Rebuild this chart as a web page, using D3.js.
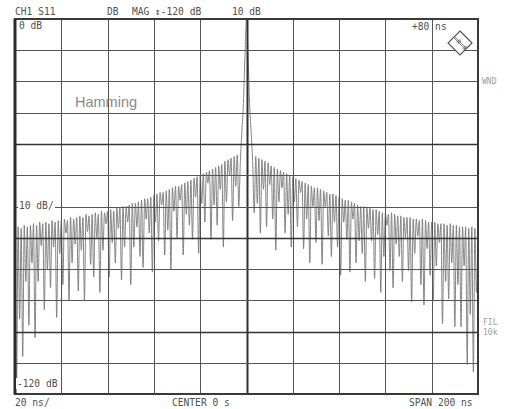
<!DOCTYPE html>
<html>
<head>
<meta charset="utf-8">
<script src="https://cdn.jsdelivr.net/npm/d3@7"></script>
<style>
  body { margin: 0; background: #fff; }
  text { font-family: "DejaVu Sans Mono", monospace; font-size: 9.6px; fill: #505050; }
</style>
</head>
<body>
<svg id="chart" width="509" height="409"></svg>
<script>
// time axis (ns) and magnitude axis (dB)
const timeTicks = [-100, -80, -60, -40, -20, 0, 20, 40, 60, 80, 100];
const dbTicks = [-120, -110, -100, -90, -80, -70, -60, -50, -40, -30, -20, -10, 0];
const heavyDb = [-40, -70, -100];

// S11 time domain trace, 301 points from -100 ns to +100 ns (2/3 ns apart)
const traceStart = -100;
const traceStep = 2 / 3;
const traceDb = [
  -67, -118, -66.5, -96, -67, -108, -66, -84, -66.5, -98,
  -66, -78, -65.5, -102, -66, -84, -65, -72.5, -65.5, -93,
  -65, -80, -65.5, -86, -64.5, -73, -65, -95.5, -64.5, -75,
  -64.5, -85, -64, -68.5, -64.5, -90, -63.5, -78, -64, -72,
  -63.5, -87, -63, -74, -63.5, -90, -62.5, -68, -63, -78.5,
  -62.5, -82.5, -62, -70, -62.5, -87.5, -61.5, -74, -62, -65.5,
  -61.5, -82.5, -61, -71.5, -61.5, -78, -60.5, -67, -60.5, -83.5,
  -60, -73, -60, -65, -59.5, -85, -59, -73, -59, -66.5,
  -58.5, -76, -58, -79.5, -57.5, -64, -57.5, -68.5, -57, -81,
  -56.5, -65, -56, -71, -55.5, -59.5, -55.5, -75.5, -55, -67.5,
  -54.5, -80, -54, -61.5, -53.5, -70, -53.5, -58, -53, -75.5,
  -52.5, -62.5, -52, -66, -51.5, -70.5, -51, -57, -50.5, -75,
  -50, -59, -49.5, -65, -49, -52.5, -48.5, -70.5, -48, -59.5,
  -47.5, -66, -47, -54.5, -46.5, -73, -45.5, -58.5, -45, -50,
  -44.5, -64.5, -44, -53.5, -43.5, -60, -46, -36, -27, -12,
  0, -12, -27, -36, -46, -62, -44, -59, -44.5, -68.5,
  -45, -54.5, -45.5, -66.5, -46, -53, -47, -64, -47.5, -74,
  -48, -58.5, -48.5, -54, -49, -68.5, -49.5, -62.5, -50, -73,
  -50.5, -58.5, -51, -66.5, -51.5, -55.5, -52, -73.5, -52.5, -64,
  -53, -78, -53.5, -60, -54, -71.5, -54, -64.5, -54.5, -78.5,
  -55, -60, -55.5, -69.5, -56, -76, -56, -65, -56.5, -73,
  -57, -82, -57.5, -65, -58, -70.5, -58, -81, -58.5, -64,
  -59, -78, -59.5, -71, -60, -75, -60, -84, -60.5, -67,
  -60.5, -71, -61, -83, -61, -69, -61.5, -87.5, -62, -76,
  -62, -66, -62.5, -80.5, -62, -86, -62.5, -72, -63, -76,
  -63, -84, -63.5, -70, -63.5, -80.5, -63.5, -90.5, -64, -75,
  -64, -69.5, -64.5, -85, -64, -91.5, -64.5, -73.5, -65, -82,
  -65, -90, -65, -79, -65.5, -71.5, -65.5, -97.5, -65.5, -84,
  -66, -89.5, -65.5, -78, -66, -98.5, -66, -85, -66.5, -98.5,
  -66.5, -79, -66.5, -110.5, -67, -94.5, -66.5, -113, -67, -87.5,
  -67
];

const svg = d3.select("#chart");
const plotL = 15, plotR = 478, plotT = 19, plotB = 394;

const x = d3.scaleLinear().domain([-100, 100]).range([plotL, plotR]);
const y = d3.scaleLinear().domain([-120, 0]).range([plotB, plotT]);

svg.append("defs").append("clipPath").attr("id", "plot")
  .append("rect").attr("x", plotL).attr("y", plotT)
  .attr("width", plotR - plotL).attr("height", plotB - plotT);

// trace
const line = d3.line()
  .x((d, i) => x(traceStart + i * traceStep))
  .y(d => y(d))
  .curve(d3.curveMonotoneX);

svg.append("path")
  .datum(traceDb)
  .attr("clip-path", "url(#plot)")
  .attr("fill", "none")
  .attr("stroke", "#787878")
  .attr("stroke-width", 0.9)
  .attr("d", line);

// grid
const grid = svg.append("g");
grid.selectAll(".vx")
  .data(timeTicks)
  .enter().append("line")
  .attr("x1", d => Math.round(x(d)) + 0.5)
  .attr("x2", d => Math.round(x(d)) + 0.5)
  .attr("y1", plotT).attr("y2", plotB)
  .attr("stroke", d => d === 0 ? "#303030" : "#555")
  .attr("stroke-width", d => d === 0 ? 2 : 1);

grid.selectAll(".hy")
  .data(dbTicks)
  .enter().append("line")
  .attr("x1", plotL).attr("x2", plotR)
  .attr("y1", d => Math.round(y(d)) + 0.5)
  .attr("y2", d => Math.round(y(d)) + 0.5)
  .attr("stroke", d => heavyDb.includes(d) ? "#333" : "#555")
  .attr("stroke-width", d => heavyDb.includes(d) ? 1.6 : 1);

// frame
svg.append("rect")
  .attr("x", plotL).attr("y", plotT)
  .attr("width", plotR - plotL).attr("height", plotB - plotT)
  .attr("fill", "none").attr("stroke", "#3a3a3a").attr("stroke-width", 2);
svg.append("line")
  .attr("x1", plotL).attr("x2", plotL).attr("y1", plotT).attr("y2", plotB)
  .attr("stroke", "#2a2a2a").attr("stroke-width", 3);

// labels
function label(txt, lx, ly, opts = {}) {
  const t = svg.append("text").attr("x", lx).attr("y", ly).text(txt);
  if (opts.size) t.style("font-size", opts.size + "px");
  if (opts.fill) t.style("fill", opts.fill);
  if (opts.family) t.style("font-family", opts.family);
  if (opts.bg) {
    const b = t.node().getBBox();
    svg.insert("rect", "text")
      .attr("x", b.x - 1).attr("y", b.y).attr("width", b.width + 2).attr("height", b.height)
      .attr("fill", "#fff");
  }
  return t;
}

label("CH1 S11", 15, 15);
label("DB", 107, 15);
label("MAG", 132, 15);
label("\u2195-120 dB", 155, 15);
label("10 dB", 232, 15);

label("0 dB", 19, 29, { bg: true });
label("10 dB/", 19, 209, { bg: true });
label("-120 dB", 17, 387, { bg: true });
label("+80 ns", 412, 30);

label("20 ns/", 15, 406);
label("CENTER 0 s", 172, 406);
label("SPAN 200 ns", 409, 406);

label("WND", 482, 84, { size: 8, fill: "#a0a0a0" });
label("FIL", 483, 325, { size: 8, fill: "#a0a0a0" });
label("10k", 483, 335, { size: 8, fill: "#a0a0a0" });

label("Hamming", 75, 107, { size: 14.5, fill: "#8a8a8a", family: "'Liberation Sans', Arial, sans-serif" });

// R&S logo
const logo = svg.append("g").attr("transform", "translate(460,43)");
logo.append("path")
  .attr("d", "M0,-12 L12,0 L0,12 L-12,0 Z")
  .attr("fill", "#fff").attr("stroke", "#555").attr("stroke-width", 1.2);
logo.append("path")
  .attr("d", "M-5,-6 L6,5 M-6,-5 L5,6")
  .attr("stroke", "#666").attr("stroke-width", 0.8);
logo.append("text").attr("x", -4).attr("y", -1).text("R")
  .style("font-size", "6px").attr("transform", "rotate(45,-4,-1)").style("fill", "#555");
logo.append("text").attr("x", 2).attr("y", 5).text("S")
  .style("font-size", "6px").attr("transform", "rotate(45,2,5)").style("fill", "#555");
</script>
</body>
</html>
